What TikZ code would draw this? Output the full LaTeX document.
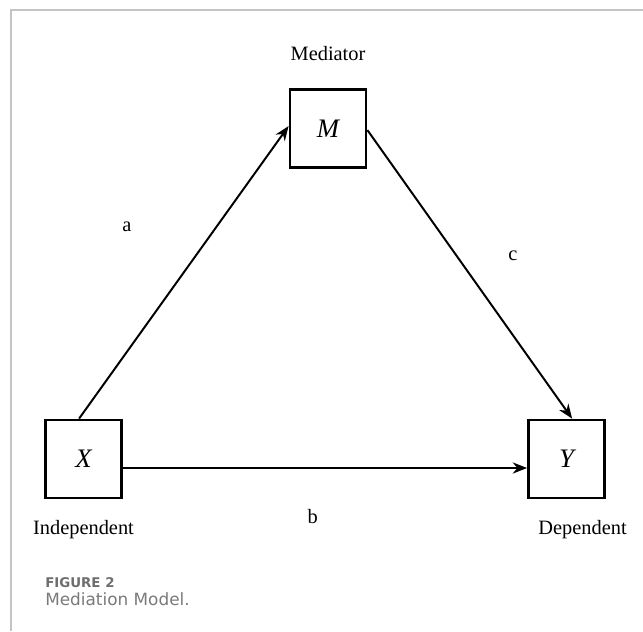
\documentclass[tikz,border=0pt]{standalone}
\usepackage{fontspec}
\setmainfont{Liberation Serif}
\newfontfamily\capfont{DejaVu Sans}
\usetikzlibrary{positioning, arrows.meta}

\definecolor{framegray}{HTML}{C4C4C4}
\definecolor{capgray}{HTML}{7A7A7A}

\begin{document}
\begin{tikzpicture}[
    x=0.025cm, y=-0.025cm,
    var/.style={
        rectangle,
        draw=black,
        line width=2pt,
        minimum width=1.9cm,
        minimum height=1.95cm,
        font=\fontsize{19}{23}\selectfont\itshape
    },
    arrow/.style={-{Stealth[length=3.6mm, width=2.8mm]}, line width=1.4pt},
    label/.style={font=\fontsize{14.5}{17}\selectfont},
    caption/.style={anchor=base west, inner sep=0pt, text=capgray}
]
\useasboundingbox (0,0) rectangle (643,631);

% Frame
\draw[framegray, line width=1.2pt] (643,10) -- (11,10) -- (11,631);

% Variables
\node[var] (M) at (328,128.5) {M};
\node[var] (X) at (83.5,459) {X};
\node[var] (Y) at (566.5,459) {Y};

% Thicker right edges
\draw[line width=2pt] ([xshift=-1.2pt, yshift=-0.2cm]X.north east) -- ([xshift=-1.2pt, yshift=0.15cm]X.south east);
\draw[line width=2pt] ([xshift=-1.2pt, yshift=-0.2cm]Y.north east) -- ([xshift=-1.2pt, yshift=0.15cm]Y.south east);

% Names
\node[label, above=0.57cm of M] {Mediator};
\node[label, below=0.4cm of X] {Independent};
\node[label, below=0.4cm of Y, xshift=0.4cm] {Dependent};

% Paths
\draw[arrow] ([xshift=-0.11cm]X.north) -- ([yshift=0.06cm]M.west)
    node[label, midway, xshift=-1.425cm, yshift=1.14cm] {a};
\draw[arrow] ([yshift=-0.04cm]M.east) -- ([xshift=0.14cm]Y.north)
    node[label, midway, xshift=1.075cm, yshift=0.475cm] {c};
\draw[arrow] ([yshift=-0.225cm]X.east) -- ([yshift=-0.225cm]Y.west)
    node[label, midway, xshift=-0.31cm, yshift=-1.225cm] {b};

% Caption
\node[caption, font=\capfont\fontsize{9.5}{11}\selectfont\bfseries, text=capgray!90!black] at (45,587) {FIGURE 2};
\node[caption, font=\capfont\fontsize{12}{14}\selectfont] at (45,605) {Mediation Model.};

\end{tikzpicture}
\end{document}
